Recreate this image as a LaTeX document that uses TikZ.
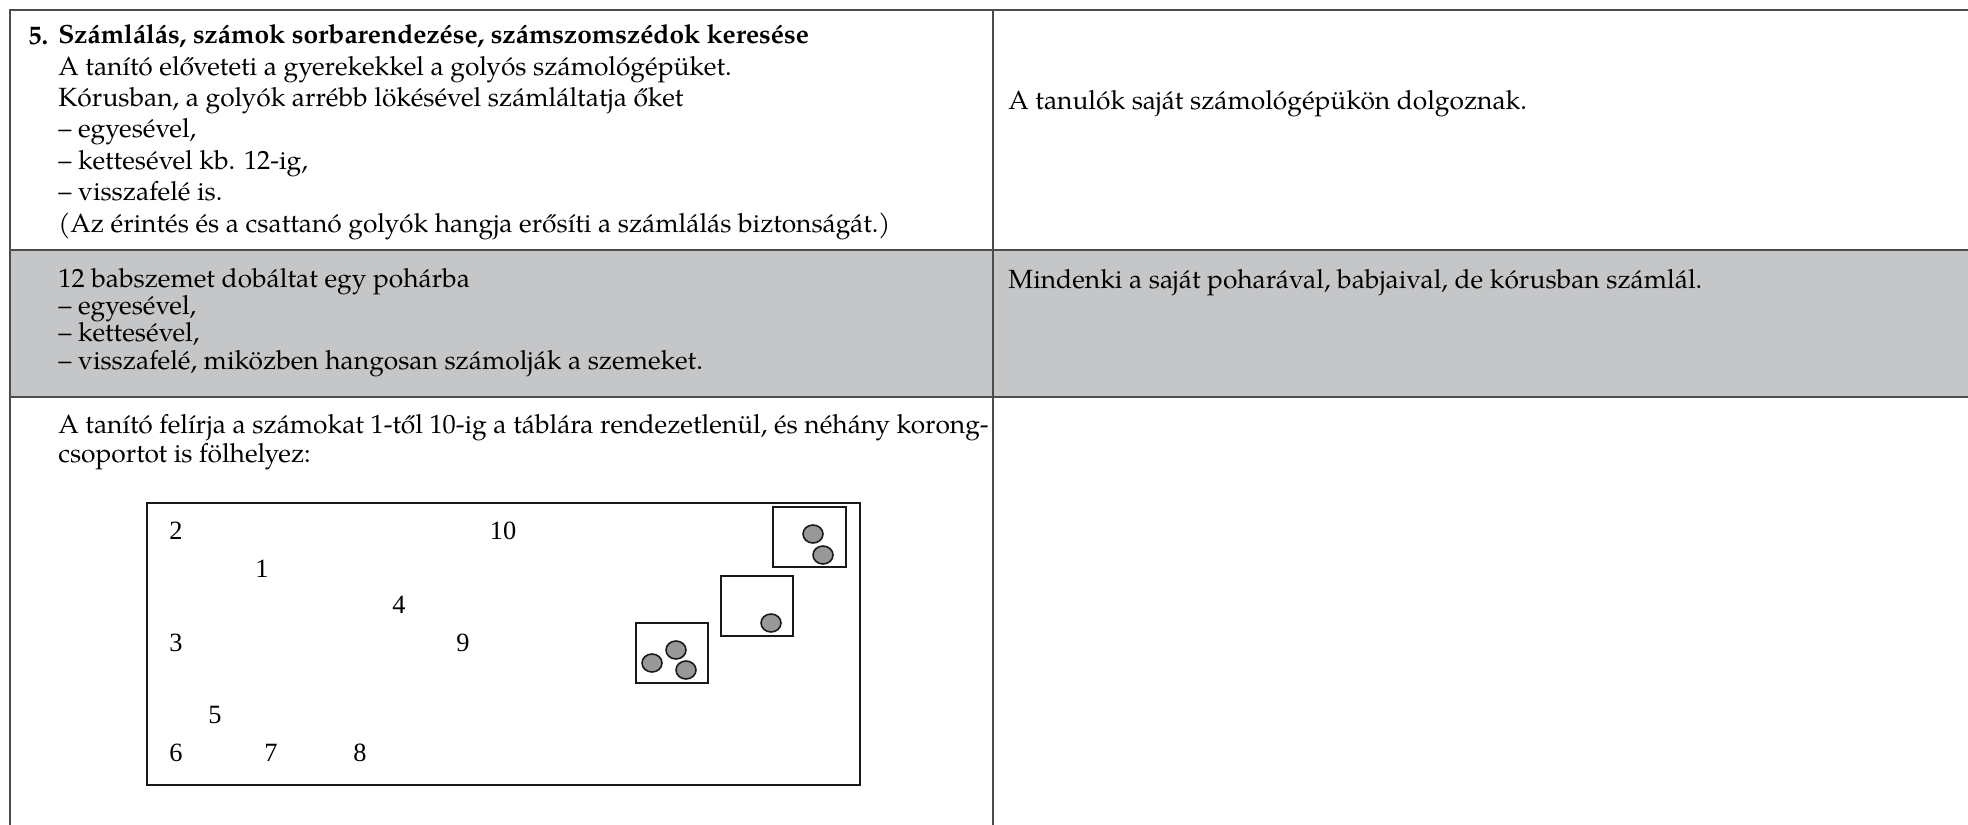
\documentclass[tikz,border=0pt]{standalone}
\usepackage{fontspec}
\setmainfont{texgyrepagella}[Extension=.otf, UprightFont=*-regular, BoldFont=*-bold, ItalicFont=*-italic, BoldItalicFont=*-bolditalic]
\newfontfamily\boardfont{Liberation Serif}
\definecolor{rowgray}{HTML}{C5C6C8}
\definecolor{diskgray}{HTML}{98989A}
\tikzset{
  rule/.style={line width=1.2pt, black!70},
  txt/.style={anchor=base west, inner sep=0pt, align=left, font=\fontsize{15}{17.07}\selectfont},
  num/.style={inner sep=0pt, font=\boardfont\fontsize{15}{15}\selectfont},
  board/.style={line width=1.3pt, black!90},
  tray/.style={line width=1pt, black!90},
  disk/.style={line width=0.9pt, draw=black!90, fill=diskgray}
}
\begin{document}
\begin{tikzpicture}[x=0.02cm, y=-0.02cm]
\useasboundingbox (0,0) rectangle (1968,825);
% table
\fill[rowgray] (10,250) rectangle (1968,397);
\draw[rule] (10,825) -- (10,10) -- (1968,10);
\draw[rule] (10,250) -- (1968,250);
\draw[rule] (10,397) -- (1968,397);
\draw[rule] (993,10) -- (993,825);

% left column (nodes sit on the baseline of their last line)
\node[txt, font=\fontsize{15}{17.07}\selectfont\bfseries] at (28,44) (no) {5.};
\node[txt, font=\fontsize{15}{17.85}\selectfont] at (58,232) (intro) {\textbf{Számlálás, számok sorbarendezése, számszomszédok keresése}\\
  A tanító előveteti a gyerekekkel a golyós számológépüket.\\
  Kórusban, a golyók arrébb lökésével számláltatja őket\\
  – egyesével,\\
  – kettesével kb. 12-ig,\\
  – visszafelé is.\\
  (Az érintés és a csattanó golyók hangja erősíti a számlálás biztonságát.)};
\node[txt, font=\fontsize{15}{15.4}\selectfont] at (58,369) (beans) {12 babszemet dobáltat egy pohárba\\
  – egyesével,\\
  – kettesével,\\
  – visszafelé, miközben hangosan számolják a szemeket.};
\node[txt, font=\fontsize{15}{16.5}\selectfont] at (58,462) (tabla) {A tanító felírja a számokat 1-től 10-ig a táblára rendezetlenül, és néhány korong-\\
  csoportot is fölhelyez:};

% right column
\node[txt] at (1008,109) (pupils) {A tanulók saját számológépükön dolgoznak.};
\node[txt] at (1008,288) (cups) {Mindenki a saját poharával, babjaival, de kórusban számlál.};

% board
\draw[board] (147,503) rectangle (860,785);
\foreach \n/\x/\y in {2/176/531, 10/503/531, 1/262/569, 4/399/605, 3/176/643,
  9/463/643, 5/215/715, 6/176/753, 7/271/753, 8/360/753}
  \node[num] at (\x,\y) (d\n) {\n};

\draw[tray] (773,507) rectangle (846,567);
\draw[tray] (721,576) rectangle (793,636);
\draw[tray] (636,623) rectangle (708,683);
\foreach \x/\y in {813/534, 823/555, 771/623, 652/663, 676/650, 686/670}
  \draw[disk] (\x,\y) ellipse (10 and 9);
\end{tikzpicture}
\end{document}
